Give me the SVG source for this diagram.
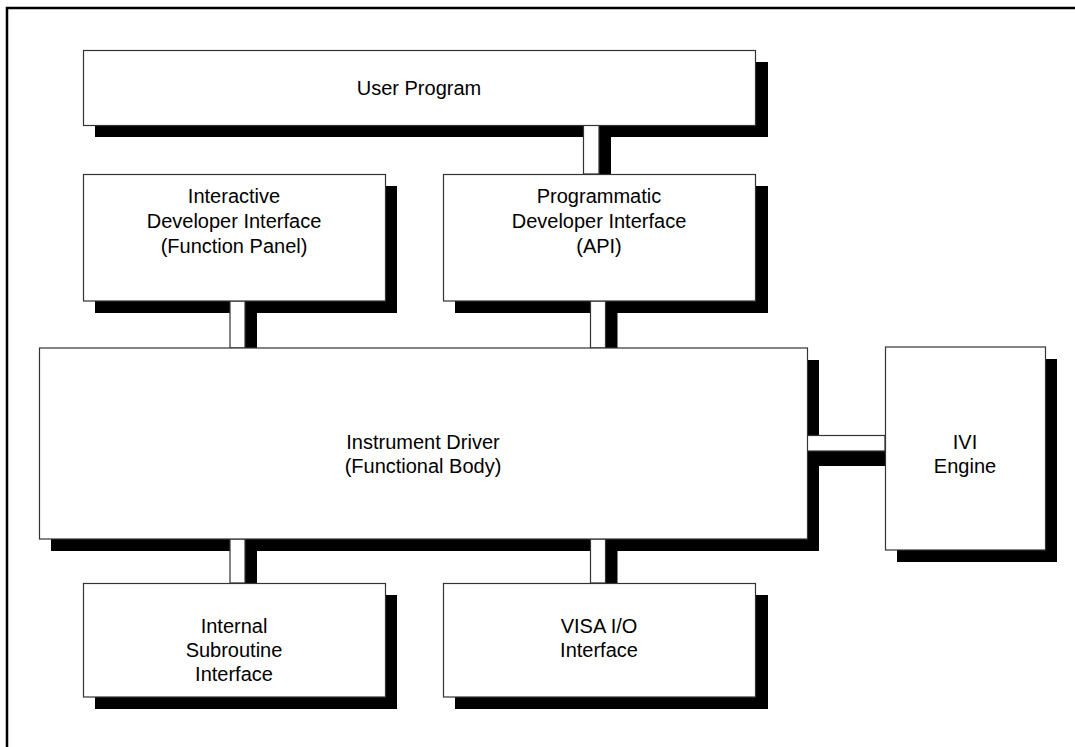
<svg xmlns="http://www.w3.org/2000/svg" width="1075" height="747" viewBox="0 0 1075 747">
<style>
.bg{fill:#ffffff}
.frame{fill:none;stroke:#000;stroke-width:2.5}
.sh{fill:#000}
.box{fill:#fff;stroke:#333;stroke-width:1.2}
.t{font-family:"Liberation Sans",Arial,sans-serif;font-size:20px;fill:#000;text-anchor:middle}
</style>
<rect class="bg" x="0" y="0" width="1075" height="747"/>
<path class="frame" d="M7,747 V8 H1075"/>
<g id="shadows">
<rect class="sh" x="95" y="62" width="673" height="75"/>
<rect class="sh" x="95" y="186" width="302" height="127"/>
<rect class="sh" x="455" y="186" width="313" height="127"/>
<rect class="sh" x="51" y="360" width="768" height="191"/>
<rect class="sh" x="897" y="359" width="160" height="203"/>
<rect class="sh" x="95" y="595" width="302" height="114"/>
<rect class="sh" x="455" y="595" width="313" height="114"/>
</g>
<g id="connectors">
<rect class="sh" x="599" y="137" width="12" height="37"/>
<rect class="box" x="583.5" y="125" width="15.5" height="49"/>
<rect class="sh" x="245" y="313" width="12" height="35"/>
<rect class="box" x="230" y="301" width="15" height="47"/>
<rect class="sh" x="605.5" y="313" width="12" height="35"/>
<rect class="box" x="590.5" y="301" width="15" height="47"/>
<rect class="sh" x="819" y="451" width="66" height="15"/>
<rect class="box" x="807" y="435.5" width="78" height="15.5"/>
<rect class="sh" x="245" y="551" width="12" height="32"/>
<rect class="box" x="230" y="539" width="15" height="44"/>
<rect class="sh" x="605.5" y="551" width="12" height="32"/>
<rect class="box" x="590.5" y="539" width="15" height="44"/>
</g>
<g id="user-program">
<rect class="box" x="83.5" y="50.5" width="672" height="75"/>
<text class="t" x="419" y="95">User Program</text>
</g>
<g id="interactive-developer-interface">
<rect class="box" x="83.5" y="174.5" width="302" height="126.5"/>
<text class="t" x="234" y="203">Interactive</text>
<text class="t" x="234" y="228">Developer Interface</text>
<text class="t" x="234" y="253">(Function Panel)</text>
</g>
<g id="programmatic-developer-interface">
<rect class="box" x="443.5" y="174.5" width="312" height="126.5"/>
<text class="t" x="599" y="203">Programmatic</text>
<text class="t" x="599" y="228">Developer Interface</text>
<text class="t" x="599" y="253">(API)</text>
</g>
<g id="instrument-driver">
<rect class="box" x="39.5" y="348" width="768" height="191"/>
<text class="t" x="423" y="449">Instrument Driver</text>
<text class="t" x="423" y="473">(Functional Body)</text>
</g>
<g id="ivi-engine">
<rect class="box" x="885.5" y="347" width="160" height="203"/>
<text class="t" x="965" y="449">IVI</text>
<text class="t" x="965" y="473">Engine</text>
</g>
<g id="internal-subroutine-interface">
<rect class="box" x="83.5" y="583.5" width="302" height="113.5"/>
<text class="t" x="234" y="633">Internal</text>
<text class="t" x="234" y="657">Subroutine</text>
<text class="t" x="234" y="681">Interface</text>
</g>
<g id="visa-io-interface">
<rect class="box" x="443.5" y="583.5" width="312" height="113.5"/>
<text class="t" x="599" y="633">VISA I/O</text>
<text class="t" x="599" y="657">Interface</text>
</g>
</svg>
